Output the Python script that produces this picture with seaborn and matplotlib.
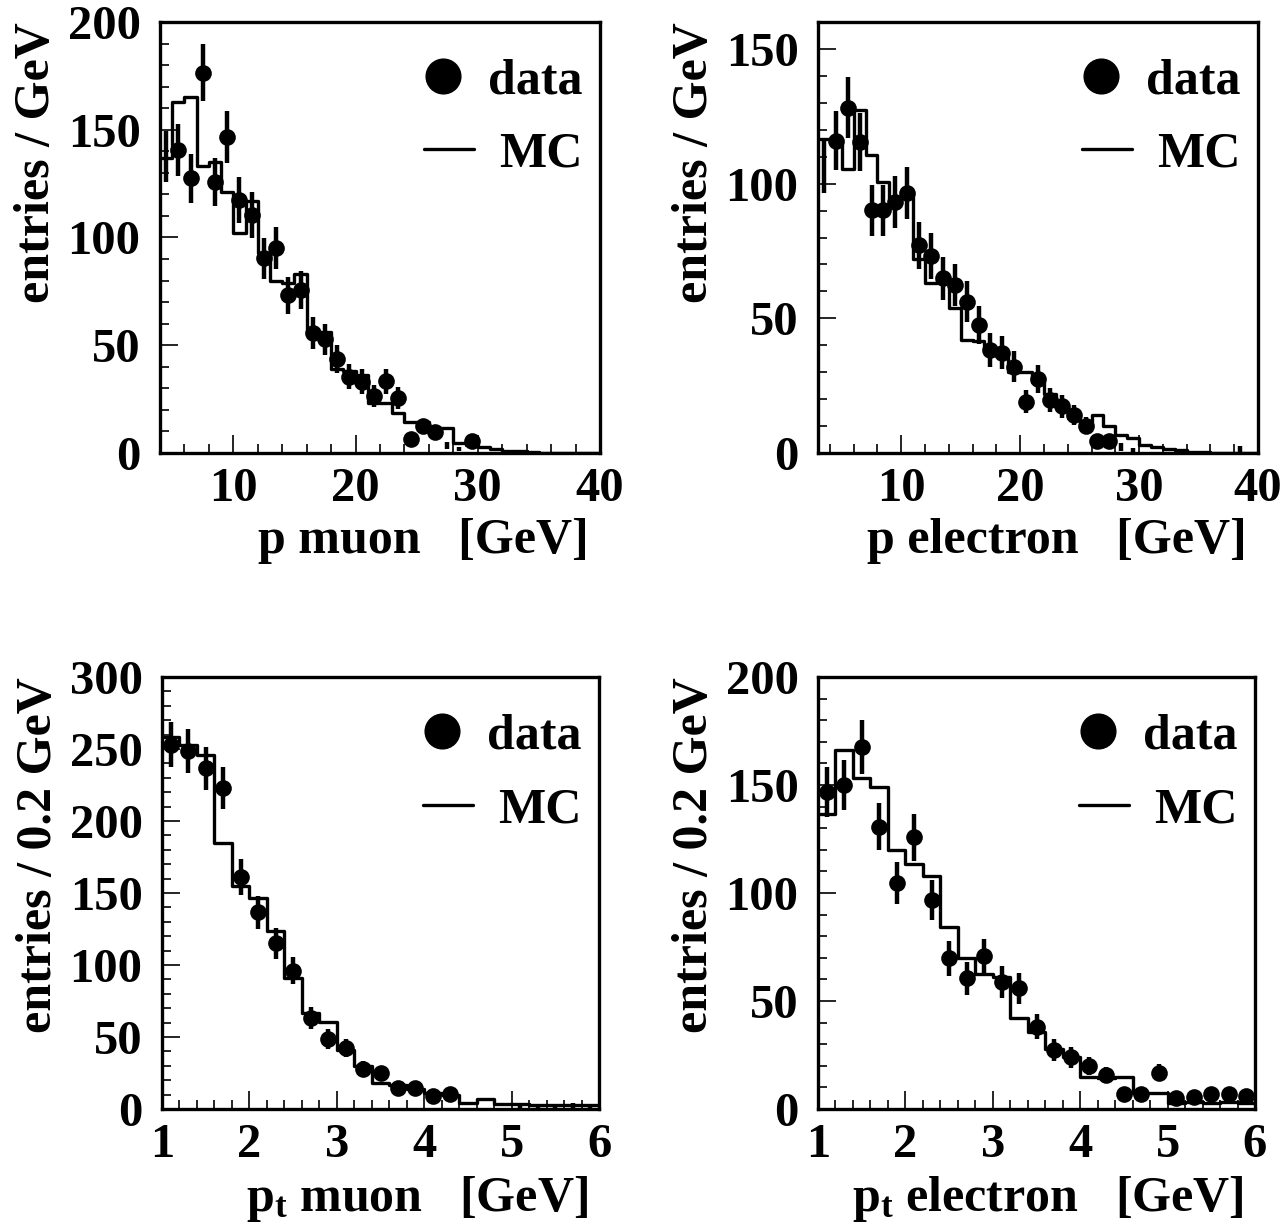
import numpy as np
import pandas as pd
import matplotlib
matplotlib.use("Agg")
import matplotlib.pyplot as plt
import seaborn as sns
from matplotlib.lines import Line2D
from matplotlib.ticker import MultipleLocator

# --- data ---
# p muon, 1 GeV bins from 4 to 40
mu_p_edges = np.arange(4, 41, 1)
mu_p_mc = [137, 163, 165, 133, 135, 121, 102, 117, 93, 80, 79, 83, 56, 56, 39, 38,
           36, 23, 23, 18.5, 14.5, 14.5, 11.5, 11.5, 4.5, 3.8, 2.7, 1.8, 1.0, 1.0,
           0.3, 0, 0, 0, 0, 0]
mu_p_x = [4.5, 5.5, 6.5, 7.5, 8.5, 9.5, 10.5, 11.5, 12.5, 13.5, 14.5, 15.5, 16.5,
          17.5, 18.5, 19.5, 20.5, 21.5, 22.5, 23.5, 24.5, 25.5, 26.5, 27.5, 28.5, 29.5]
mu_p_data = [137.5, 140.6, 127.5, 176.5, 125.6, 146.5, 117.4, 110.4, 90.3, 95.3, 73.3,
             75.6, 55.5, 52.7, 43.5, 35.4, 33.1, 26.4, 33.4, 25.4, 6.3, 12.5, 9.9,
             3.5, 2.0, 5.7]
mu_p_err = [11.7, 11.9, 11.3, 13.3, 11.2, 12.1, 10.8, 10.5, 9.5, 9.8, 8.6, 8.7, 7.4,
            7.3, 6.6, 5.9, 5.8, 5.1, 5.8, 5.0, 2.5, 3.5, 3.1, 1.5, 1.0, 2.4]

# p electron, 1 GeV bins from 3 to 40
el_p_edges = np.arange(3, 41, 1)
el_p_mc = [116.7, 116.7, 105.6, 127.4, 110.5, 100.6, 93.8, 96.3, 72.2, 63.0, 64.2,
           53.7, 42.0, 41.4, 39.0, 37.0, 30.2, 30.2, 26.5, 22.0, 16.7, 13.0, 10.4,
           14.2, 9.9, 6.8, 5.6, 3.1, 2.2, 1.5, 1.0, 0.5, 0.3, 0, 0, 0, 0]
el_p_x = [3.5, 4.5, 5.5, 6.5, 7.5, 8.5, 9.5, 10.5, 11.5, 12.5, 13.5, 14.5, 15.5, 16.5,
          17.5, 18.5, 19.5, 20.5, 21.5, 22.5, 23.5, 24.5, 25.5, 26.5, 27.5, 28.5,
          29.5, 38.5]
el_p_data = [106.8, 116.0, 128.1, 115.4, 90.1, 90.1, 93.2, 96.5, 77.1, 73.1, 64.8,
             62.3, 56.2, 47.5, 38.3, 37.3, 32.1, 19.1, 27.4, 19.7, 17.3, 14.2, 10.1,
             4.3, 4.3, 2.2, 1.0, 1.5]
el_p_err = [10.3, 10.8, 11.3, 10.7, 9.5, 9.5, 9.7, 9.8, 8.8, 8.5, 8.0, 7.9, 7.5, 6.9,
            6.2, 6.1, 5.7, 4.4, 5.2, 4.4, 4.2, 3.8, 3.2, 2.1, 2.1, 1.5, 1.0, 1.2]

# pt muon, 0.2 GeV bins from 1 to 6
mu_pt_edges = np.linspace(1, 6, 26)
mu_pt_mc = [258.6, 253.0, 246.1, 184.7, 154.7, 146.2, 123.8, 90.8, 66.5, 60.7, 41.1,
            29.6, 18.1, 17.0, 14.0, 11.0, 10.0, 4.3, 6.6, 3.7, 3.5, 2.5, 3.0, 2.5, 3.0]
mu_pt_x = [1.1, 1.3, 1.5, 1.7, 1.9, 2.1, 2.3, 2.5, 2.7, 2.9, 3.1, 3.3, 3.5, 3.7, 3.9,
           4.1, 4.3, 5.1, 5.3, 5.5, 5.7, 5.9]
mu_pt_data = [253.0, 248.4, 236.6, 222.8, 161.2, 136.5, 115.0, 96.1, 63.1, 48.8, 42.3,
              27.8, 25.0, 14.6, 14.6, 9.3, 10.7, 1.5, 1.5, 2.0, 2.5, 2.0]
mu_pt_err = [15.5, 15.3, 14.9, 14.5, 12.4, 11.4, 10.5, 9.6, 7.8, 6.9, 6.4, 5.2, 5.0,
             3.8, 3.8, 3.0, 3.2, 1.2, 1.2, 1.4, 1.6, 1.4]

# pt electron, 0.2 GeV bins from 1 to 6
el_pt_edges = np.linspace(1, 6, 26)
el_pt_mc = [136.8, 166.2, 153.1, 148.9, 119.9, 113.4, 107.8, 84.4, 69.7, 62.5, 61.2,
            41.9, 35.7, 28.0, 24.2, 15.0, 14.5, 15.0, 7.5, 7.5, 2.6, 3.1, 2.6, 3.1, 2.6]
el_pt_x = [1.1, 1.3, 1.5, 1.7, 1.9, 2.1, 2.3, 2.5, 2.7, 2.9, 3.1, 3.3, 3.5, 3.7, 3.9,
           4.1, 4.3, 4.5, 4.7, 4.9, 5.1, 5.3, 5.5, 5.7, 5.9]
el_pt_data = [146.9, 150.0, 167.7, 130.7, 104.7, 125.7, 96.7, 69.7, 60.5, 70.8, 58.9,
              55.8, 38.1, 27.3, 23.9, 19.9, 15.7, 6.9, 6.9, 16.8, 4.9, 5.7, 6.9, 6.9, 6.0]
el_pt_err = [11.6, 11.8, 12.4, 11.0, 9.8, 10.8, 9.4, 8.0, 7.5, 8.1, 7.4, 7.2, 5.9,
             5.0, 4.7, 4.3, 3.8, 2.5, 2.5, 3.9, 2.1, 2.3, 2.5, 2.5, 2.4]

panels = [
    dict(edges=mu_p_edges, mc=mu_p_mc, x=mu_p_x, y=mu_p_data, err=mu_p_err,
         xlim=(4, 40), ylim=(0, 200), xmaj=10, xmin=2,
         xlabel="p muon   [GeV]", ylabel="entries / GeV",
         rect=[160 / 1283, 1 - 453 / 1230, 440 / 1283, 431 / 1230]),
    dict(edges=el_p_edges, mc=el_p_mc, x=el_p_x, y=el_p_data, err=el_p_err,
         xlim=(3, 40), ylim=(0, 160), xmaj=10, xmin=2,
         xlabel="p electron   [GeV]", ylabel="entries / GeV",
         rect=[818 / 1283, 1 - 453 / 1230, 440 / 1283, 431 / 1230]),
    dict(edges=mu_pt_edges, mc=mu_pt_mc, x=mu_pt_x, y=mu_pt_data, err=mu_pt_err,
         xlim=(1, 6), ylim=(0, 300), xmaj=1, xmin=0.2,
         xlabel=r"$\mathrm{p_t}$ muon   [GeV]", ylabel="entries / 0.2 GeV",
         rect=[162 / 1283, 1 - 1109 / 1230, 437 / 1283, 432 / 1230]),
    dict(edges=el_pt_edges, mc=el_pt_mc, x=el_pt_x, y=el_pt_data, err=el_pt_err,
         xlim=(1, 6), ylim=(0, 200), xmaj=1, xmin=0.2,
         xlabel=r"$\mathrm{p_t}$ electron   [GeV]", ylabel="entries / 0.2 GeV",
         rect=[818 / 1283, 1 - 1109 / 1230, 437 / 1283, 432 / 1230]),
]

sns.set_style("white")
plt.rcParams["font.family"] = ["Liberation Serif", "DejaVu Serif"]
plt.rcParams["font.weight"] = "bold"
plt.rcParams["axes.labelweight"] = "bold"
for key in ["text.color", "axes.labelcolor", "xtick.color", "ytick.color"]:
    plt.rcParams[key] = "black"
plt.rcParams["mathtext.fontset"] = "custom"
plt.rcParams["mathtext.rm"] = "Liberation Serif:bold"
plt.rcParams["mathtext.it"] = "Liberation Serif:bold:italic"
plt.rcParams["mathtext.bf"] = "Liberation Serif:bold"

MS = 12  # marker size in points
FS = 36   # axis titles / legend
TFS = 35  # tick labels
fig = plt.figure(figsize=(12.83, 12.30), dpi=100)

for p in panels:
    ax = fig.add_axes(p["rect"])
    edges = [float(e) for e in p["edges"]]
    mc = pd.DataFrame({"center": [0.5 * (a + b) for a, b in zip(edges[:-1], edges[1:])],
                       "w": p["mc"]})
    sns.histplot(data=mc, x="center", weights="w", bins=edges, element="step",
                 fill=False, color="black", linewidth=2.4, ax=ax)
    ax.set_xlim(*p["xlim"])
    ax.set_ylim(*p["ylim"])

    x = np.asarray(p["x"])
    y = np.asarray(p["y"])
    ax.errorbar(x, y, yerr=p["err"], fmt="none", ecolor="black", elinewidth=3.2,
                capsize=0, zorder=3)
    # markers that would stick out of the frame are not drawn (as in the original)
    r = MS / 2 * fig.dpi / 72
    pts = ax.transData.transform(np.column_stack([x, y]))
    bb = ax.bbox
    keep = ((pts[:, 0] - r >= bb.x0) & (pts[:, 0] + r <= bb.x1) &
            (pts[:, 1] - r >= bb.y0) & (pts[:, 1] + r <= bb.y1))
    sns.scatterplot(x=x[keep], y=y[keep], s=MS ** 2, color="black", edgecolor="black",
                    linewidth=0, ax=ax, zorder=4)

    ax.xaxis.set_major_locator(MultipleLocator(p["xmaj"]))
    ax.xaxis.set_minor_locator(MultipleLocator(p["xmin"]))
    ax.yaxis.set_major_locator(MultipleLocator(50))
    ax.yaxis.set_minor_locator(MultipleLocator(10))
    ax.tick_params(which="both", direction="in", width=1.2, labelsize=TFS,
                   top=False, right=False, bottom=True, left=True, colors="black")
    ax.tick_params(axis="x", which="both", pad=10)
    ax.tick_params(axis="y", which="both", pad=14)
    ax.tick_params(which="major", length=13)
    ax.tick_params(which="minor", length=6.5)
    for s in ax.spines.values():
        s.set_linewidth(2.4)
        s.set_color("black")

    ax.set_xlabel(p["xlabel"], fontsize=FS, fontweight="bold", loc="right")
    ax.set_ylabel(p["ylabel"], fontsize=FS, fontweight="bold", loc="top")
    ax.xaxis.set_label_coords(0.975, -0.15)
    ax.yaxis.set_label_coords(-0.228, 1.0)

    # two single-entry legends, each right aligned like the original
    leg_data = ax.legend([Line2D([], [], marker="o", color="black", ls="none",
                                 markersize=25)], ["data"],
                         loc="center right", bbox_to_anchor=(0.96, 0.862),
                         frameon=False, fontsize=FS, handlelength=0.95,
                         handletextpad=0.42, borderpad=0, borderaxespad=0)
    ax.add_artist(leg_data)
    ax.legend([Line2D([], [], color="black", lw=2.4)], ["MC"],
              loc="center right", bbox_to_anchor=(0.96, 0.692),
              frameon=False, fontsize=FS, handlelength=1.0,
              handletextpad=0.5, borderpad=0, borderaxespad=0)

fig.savefig("out.png", dpi=100)
